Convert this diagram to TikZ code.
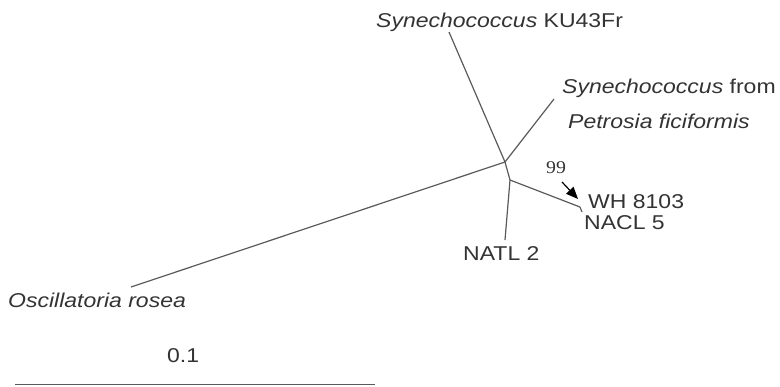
\documentclass[tikz,border=0pt]{standalone}
\usepackage{fontspec}
\setmainfont{Liberation Sans}[FakeStretch=1.15]
\newfontfamily\numfont{Liberation Serif}[FakeStretch=1.1]
\usetikzlibrary{arrows.meta}
\definecolor{txt}{HTML}{333333}
\definecolor{ln}{HTML}{5A5A5A}
\tikzset{
  branch/.style={draw=ln, line width=1.2pt},
  lbl/.style={anchor=base west, inner sep=0pt, text=txt, font=\fontsize{20}{24}\selectfont},
  boot/.style={anchor=base west, inner sep=0pt, text=txt, font=\numfont\fontsize{18}{22}\selectfont},
  pointer/.style={draw=black, line width=1.2pt, -{Triangle[length=12pt,width=10pt]}}
}
\begin{document}
\begin{tikzpicture}[x=1pt,y=-1pt]
\useasboundingbox (0,0) rectangle (780,386);
% tree nodes
\coordinate (A) at (505,162);
\coordinate (B) at (510,180);
\coordinate (ku) at (449,32);
\coordinate (pet) at (554,99);
\coordinate (osc) at (131,287);
\coordinate (natl) at (505,240);
\coordinate (wn) at (580,207);
\coordinate (wn2) at (582,212);
\coordinate (arrS) at (562,182);
\coordinate (arrE) at (578,199);
\coordinate (sbL) at (15,384.5);
\coordinate (sbR) at (375,384.5);
% branches
\draw[branch] (A) -- (ku);
\draw[branch] (A) -- (pet);
\draw[branch] (A) -- (osc);
\draw[branch] (A) -- (B);
\draw[branch] (B) -- (natl);
\draw[branch] (B) -- (wn);
\draw[branch] (wn) -- (wn2);
% labels
\node[lbl] (tku) at (376,27) {\textit{Synechococcus} KU43Fr};
\node[lbl] (tpet1) at (562,93) {\textit{Synechococcus} from};
\node[lbl] (tpet2) at (568,128) {\textit{Petrosia ficiformis}};
\node[lbl] (twh) at (588,208) {WH 8103};
\node[lbl] (tnacl) at (584,229) {NACL 5};
\node[lbl] (tnatl) at (463,260) {NATL 2};
\node[lbl] (tosc) at (8,307) {\textit{Oscillatoria rosea}};
\node[boot] (t99) at (546,173) {99};
\draw[pointer] (arrS) -- (arrE);
% scale bar
\node[lbl] (tsb) at (167,362) {0.1};
\draw[draw=ln, line width=1.4pt] (sbL) -- (sbR);
\end{tikzpicture}
\end{document}
